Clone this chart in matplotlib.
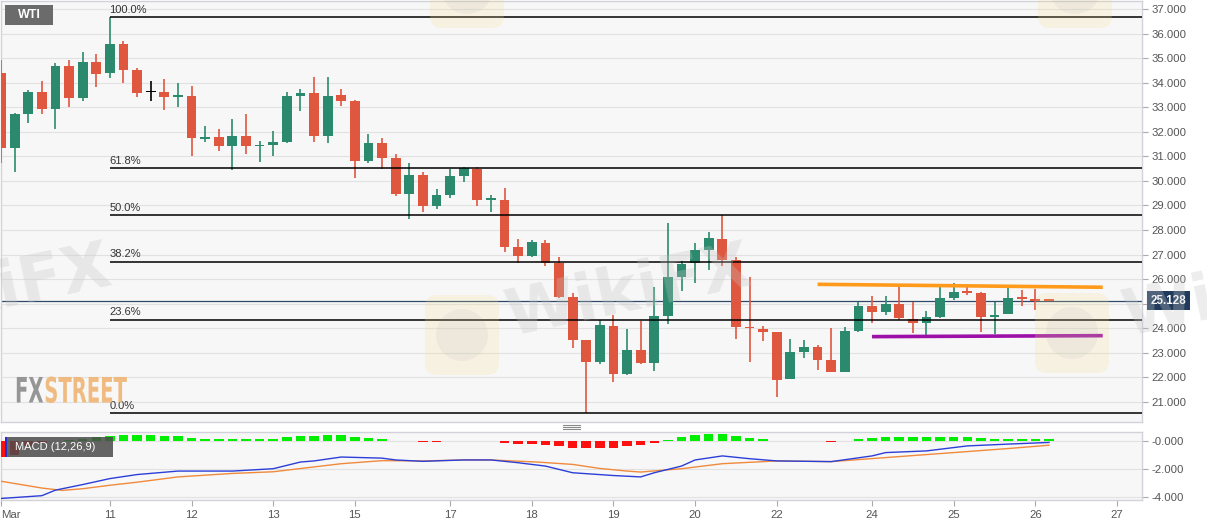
import numpy as np
import matplotlib.pyplot as plt
from matplotlib.patches import Rectangle, FancyBboxPatch, Circle, PathPatch
from matplotlib.lines import Line2D
from matplotlib.textpath import TextPath
from matplotlib.font_manager import FontProperties
from matplotlib.transforms import IdentityTransform, Affine2D, blended_transform_factory

plt.rcParams['font.family'] = ['Liberation Sans', 'DejaVu Sans']

# 4h candles, WTI
opens = [34.38, 31.33, 32.71, 33.63, 32.93, 34.68, 33.39, 34.83, 34.38, 35.59,
         34.52, 33.61, 33.61, 33.43, 33.47, 31.72, 31.79, 31.42, 31.84, 31.41,
         31.46, 31.60, 33.46, 33.57, 31.84, 33.50, 33.27, 30.81, 31.56, 30.95,
         29.47, 30.25, 28.98, 29.44, 30.20, 30.49, 29.23, 29.22, 27.30, 26.96,
         27.49, 26.65, 25.29, 23.52, 22.61, 24.11, 22.13, 23.12, 22.60, 24.51,
         26.08, 26.65, 27.19, 27.64, 26.78, 24.04, 23.97, 23.84, 21.92, 23.05,
         23.25, 22.71, 22.23, 23.90, 24.91, 24.68, 24.99, 24.37, 24.20, 24.47,
         25.25, 25.48, 25.45, 24.47, 24.57, 25.24, 25.18, 25.14]
highs = [34.92, 32.75, 33.70, 34.07, 34.79, 34.92, 35.26, 35.17, 36.67, 35.70,
         34.59, 34.07, 34.14, 33.97, 33.88, 32.24, 32.11, 32.52, 32.71, 31.63,
         32.03, 33.63, 33.74, 34.22, 34.22, 33.73, 33.30, 31.91, 31.73, 31.10,
         30.72, 30.36, 29.66, 30.49, 30.55, 30.58, 29.44, 29.70, 27.62, 27.59,
         27.59, 26.89, 25.42, 23.52, 24.34, 24.54, 23.97, 24.30, 25.69, 28.30,
         26.75, 27.46, 27.93, 28.61, 26.91, 26.08, 24.09, 23.84, 23.55, 23.52,
         23.32, 24.00, 24.06, 25.08, 25.31, 25.31, 25.69, 25.06, 24.72, 25.69,
         25.83, 25.69, 25.49, 25.06, 25.63, 25.56, 25.59, 25.16]
lows = [30.73, 30.38, 32.35, 32.71, 32.11, 33.00, 33.25, 33.84, 34.18, 33.97,
        33.40, 33.25, 32.89, 33.00, 31.03, 31.60, 31.22, 30.44, 31.08, 30.76,
        31.01, 31.53, 32.86, 31.57, 31.53, 33.06, 30.11, 30.74, 30.47, 29.40,
        28.44, 28.75, 28.84, 29.29, 29.94, 28.99, 28.72, 27.12, 26.65, 26.89,
        26.55, 25.22, 23.21, 20.55, 22.55, 21.83, 22.10, 22.53, 22.26, 24.17,
        25.52, 25.83, 26.37, 26.54, 23.56, 22.61, 23.48, 21.21, 21.92, 22.78,
        22.30, 22.23, 22.23, 23.86, 24.23, 24.54, 24.34, 23.82, 23.73, 24.43,
        25.15, 25.36, 23.84, 23.75, 24.57, 24.91, 24.74, 25.10]
closes = [31.33, 32.71, 33.63, 32.93, 34.68, 33.36, 34.83, 34.37, 35.59, 34.52,
          33.59, 33.61, 33.40, 33.47, 31.73, 31.78, 31.42, 31.84, 31.42, 31.46,
          31.60, 33.46, 33.57, 31.84, 33.47, 33.27, 30.81, 31.56, 30.95, 29.47,
          30.25, 28.98, 29.44, 30.20, 30.51, 29.22, 29.27, 27.30, 26.96, 27.50,
          26.67, 25.29, 23.52, 22.64, 24.13, 22.13, 23.12, 22.60, 24.51, 26.08,
          26.62, 27.19, 27.66, 26.78, 24.04, 24.00, 23.86, 21.89, 23.02, 23.22,
          22.71, 22.23, 23.90, 24.92, 24.68, 24.99, 24.41, 24.20, 24.47, 25.25,
          25.47, 25.45, 24.47, 24.54, 25.25, 25.20, 25.13, 25.128]

last_price = 25.128

# fibonacci retracement from swing high (candle 8) to swing low (candle 43)
fib_start = 8
fib_high = 36.67
fib_low = 20.55
fib_ratios = [1.0, 0.618, 0.5, 0.382, 0.236, 0.0]
fib_labels = ['100.0%', '61.8%', '50.0%', '38.2%', '23.6%', '0.0%']

# hand drawn lines
res_x = [60.0, 80.95]
res_y = [25.79, 25.67]
sup_x = [64.0, 80.95]
sup_y = [23.66, 23.70]

# MACD (12,26,9)
hist = [-1.15, -1.0, -0.35, -0.1, 0.06, 0.12, 0.2, 0.3, 0.42, 0.48,
        0.44, 0.44, 0.39, 0.39, 0.27, 0.19, 0.15, 0.15, 0.15, 0.15,
        0.19, 0.31, 0.39, 0.39, 0.44, 0.44, 0.31, 0.24, 0.15, 0.06,
        0.06, -0.06, -0.06, 0.0, 0.06, 0.06, 0.06, -0.13, -0.15, -0.2,
        -0.22, -0.31, -0.44, -0.5, -0.5, -0.5, -0.35, -0.29, -0.12, 0.08,
        0.3, 0.45, 0.55, 0.55, 0.4, 0.25, 0.18, 0.06, 0.06, 0.06,
        0.0, -0.06, 0.06, 0.15, 0.25, 0.3, 0.3, 0.3, 0.3, 0.3,
        0.35, 0.35, 0.25, 0.18, 0.18, 0.18, 0.18, 0.18]
macd_x = [0, 3, 4, 6, 8, 10, 13, 17, 20, 22, 23, 25, 28, 29, 31, 34, 36, 38,
          40, 42, 45, 47, 48, 50, 51, 53, 55, 57, 61, 64, 65, 68, 71, 74, 77]
macd_y = [-4.1, -3.9, -3.5, -3.1, -2.67, -2.38, -2.13, -2.13, -1.96, -1.48,
          -1.4, -1.12, -1.2, -1.33, -1.43, -1.33, -1.33, -1.53, -1.77, -2.25,
          -2.45, -2.55, -2.25, -1.77, -1.33, -1.04, -1.24, -1.4, -1.45, -1.04,
          -0.8, -0.68, -0.32, -0.19, -0.07]
signal_x = [0, 3, 4.5, 6, 8, 10, 13, 17, 20, 22.5, 25, 28, 31, 34, 36, 39.4,
            42, 44, 46, 47, 50, 53, 57, 61, 65, 70, 74, 77]
signal_y = [-2.86, -3.35, -3.52, -3.4, -3.15, -2.93, -2.55, -2.3, -2.18, -1.89,
            -1.6, -1.38, -1.4, -1.33, -1.33, -1.48, -1.65, -1.94, -2.13, -2.2,
            -1.96, -1.6, -1.4, -1.45, -1.16, -0.8, -0.51, -0.27]

tick_pos = [0, 8, 14, 20, 26, 33, 39, 45, 51, 57, 64, 70, 76, 82]
tick_lab = ['Mar', '11', '12', '13', '15', '17', '18', '19', '20', '22', '24', '25', '26', '27']

GREEN = '#2b8a6e'
RED = '#e0573f'
W, H = 1207, 526
PX = 24.56  # pixels per dollar on the price axis

fig = plt.figure(figsize=(W / 100, H / 100), dpi=100)
fig.patch.set_facecolor('white')
ax = fig.add_axes([1 / W, 1 - 421.7 / H, 1141 / W, 420.7 / H])
ax2 = fig.add_axes([1 / W, 1 - 500 / H, 1141 / W, 68 / H], sharex=ax)

for a in (ax, ax2):
    a.set_facecolor('#f7f7f7')
    for s in a.spines.values():
        s.set_color('#d2d2da')
        s.set_linewidth(1)
    a.yaxis.tick_right()
    a.tick_params(axis='y', length=4, color='#aaaaaa', labelcolor='#555555',
                  labelsize=8.2, pad=3)
    a.grid(axis='y', color='#e2e2e2', lw=0.8)
    a.set_axisbelow(True)

# candles
o = np.array(opens)
c = np.array(closes)
idx = np.arange(len(o))
cols = [GREEN if cc > oo else (RED if cc < oo else 'black') for oo, cc in zip(o, c)]
ax.vlines(idx, lows, highs, colors=cols, lw=1.2, zorder=3)
body = np.maximum(np.abs(c - o), 0.06)
ax.bar(idx, body, bottom=np.minimum(o, c), width=0.72, color=cols, lw=0, zorder=4)

xmax = 1141 / 13.61
ax.set_xlim(0, xmax)
ax.set_ylim(37 - 412.7 / PX, 37 + 8 / PX)
yt = list(range(21, 38))
ax.set_yticks(yt)
# 25.000 sits under the last price tag
ax.set_yticklabels(['' if v == 25 else '%.3f' % v for v in yt])
ax.tick_params(axis='x', bottom=False, labelbottom=False)

# fib levels
for r, lab in zip(fib_ratios, fib_labels):
    lvl = fib_low + r * (fib_high - fib_low)
    ax.hlines(lvl, fib_start, xmax, color='black', lw=1.1, zorder=5)
    ax.text(fib_start - 0.03, lvl + 0.1, lab, fontsize=8, color='#333333',
            ha='left', va='bottom', zorder=6)

ax.axhline(last_price, color='#2d4a68', lw=0.9, zorder=2)
ax.plot(res_x, res_y, color='#ff9a1a', lw=2.6, solid_capstyle='butt', zorder=6)
ax.plot(sup_x, sup_y, color='#9c10a8', lw=2.6, solid_capstyle='butt', zorder=6)

tr = blended_transform_factory(ax.transAxes, ax.transData)
ax.text(1.0075, last_price, '%.3f' % last_price, transform=tr, color='white',
        fontsize=8.4, fontweight='bold', va='center', ha='left', clip_on=False,
        bbox=dict(boxstyle='square,pad=0.32', fc='#1f3a5c', ec='none'), zorder=10)

# MACD panel
h = np.array(hist)
ax2.bar(idx, h, width=0.7, color=['#00ee00' if v >= 0 else '#ff1010' for v in h], lw=0, zorder=3)
ax2.plot(signal_x, signal_y, color='#f08a3c', lw=1.0, zorder=4)
ax2.plot(macd_x, macd_y, color='#2b3fd8', lw=1.0, zorder=5)
ax2.set_ylim(-4.21, 0.68)
ax2.set_yticks([0, -2, -4])
ax2.set_yticklabels(['-0.000', '-2.000', '-4.000'])
ax2.set_xticks(tick_pos)
ax2.set_xticklabels(tick_lab)
ax2.tick_params(axis='x', length=4, color='#aaaaaa', labelcolor='#555555', labelsize=8.2, pad=3)
ax2.get_xticklabels()[0].set_ha('left')

# labels / boxes
fig.add_artist(Rectangle((5, H - 25), 48, 20, transform=IdentityTransform(), fc='#6b6b6b', ec='none'))
fig.text(29 / W, 1 - 15.5 / H, 'WTI', color='white', fontsize=9, fontweight='bold', ha='center', va='center')
fig.add_artist(Rectangle((5, H - 457), 108, 20, transform=IdentityTransform(), fc='#4a4a4a', ec='none', alpha=0.85))
fig.add_artist(Rectangle((5, H - 457), 2, 20, transform=IdentityTransform(), fc='#2233cc', ec='none'))
fig.text(15 / W, 1 - 447.5 / H, 'MACD (12,26,9)', color='white', fontsize=8, ha='left', va='center')
for yy in (425, 427, 429):
    fig.add_artist(Line2D([563, 580], [H - yy, H - yy], transform=IdentityTransform(), color='#8a8a8a', lw=0.8))

# FXSTREET mark
fp = FontProperties(family='DejaVu Sans', weight='bold')
p1 = TextPath((0, 0), 'FX', size=35, prop=fp)
w1 = p1.get_extents().x1
p2 = TextPath((w1 + 2, 0), 'STREET', size=35, prop=fp)
t = Affine2D().scale(0.56, 1.0).translate(15, H - 402.5)
fig.add_artist(PathPatch(p1, transform=t, fc='#8c8c8c', ec='none', alpha=0.9))
fig.add_artist(PathPatch(p2, transform=t, fc='#efb574', ec='none', alpha=0.9))

# WikiFX watermarks
for cx, cy in ((462, 335), (1072, 333), (467, -12), (1075, -12)):
    fig.add_artist(FancyBboxPatch((cx - 37, H - cy - 40), 74, 80, boxstyle='round,pad=0,rounding_size=12',
                                  transform=IdentityTransform(), fc='#f3dc8c', ec='none', alpha=0.2))
    fig.add_artist(Circle((cx, H - cy), 26, transform=IdentityTransform(), fc='#8a8aa0', ec='none', alpha=0.08))
for cx, cy in ((628, 292), (-12, 292), (1245, 292)):
    fig.text(cx / W, 1 - cy / H, 'WikiFX', fontsize=46, fontweight='bold', color='#c4c4c4',
             alpha=0.3, rotation=12, ha='center', va='center', family='DejaVu Sans')

fig.savefig('out.png', dpi=100)
